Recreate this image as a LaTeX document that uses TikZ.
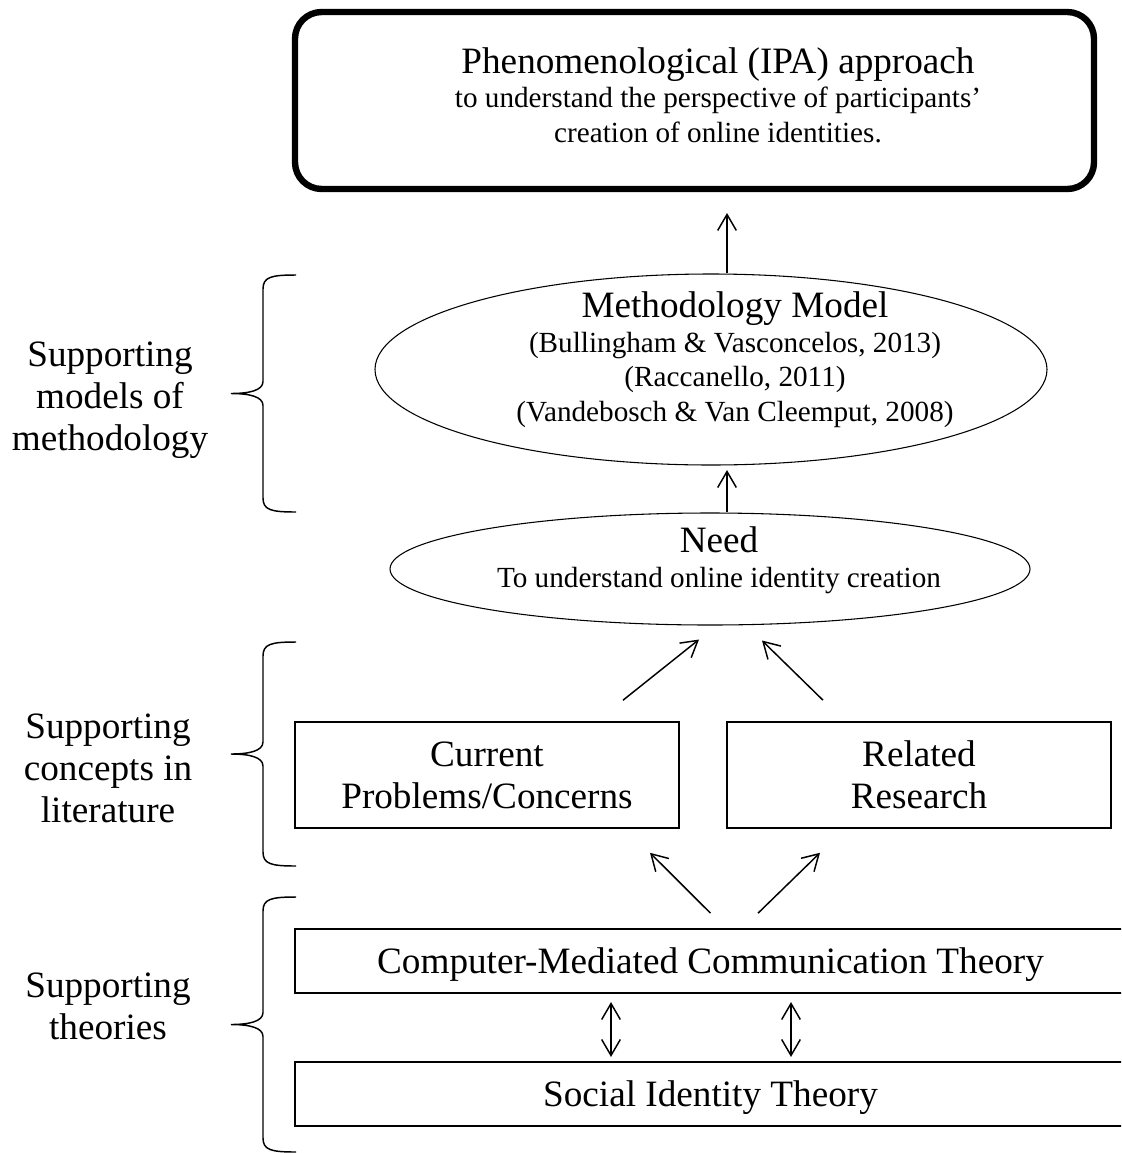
\documentclass[tikz,border=0pt]{standalone}
\usepackage{fontspec}
\setmainfont{Liberation Serif}
\usetikzlibrary{arrows.meta,shapes.geometric}

\newcommand\bigtext{\fontsize{27.9pt}{31.5pt}\selectfont}
\newcommand\smalltext{\fontsize{21.9pt}{25.9pt}\selectfont}

% curly bracket left of a group, from y=#1 down to y=#2
\newcommand\sidebrace[2]{%
  \draw[bracket] (296,#1) .. controls (271,#1) and (263,#1+2) .. (263,#1+14)
    -- (263,{(#1+#2)/2-12}) .. controls (263,{(#1+#2)/2-3}) and (249,{(#1+#2)/2}) .. (231,{(#1+#2)/2})
    .. controls (249,{(#1+#2)/2}) and (263,{(#1+#2)/2+3}) .. (263,{(#1+#2)/2+12})
    -- (263,#2-14) .. controls (263,#2-2) and (271,#2) .. (296,#2);}

\begin{document}
\begin{tikzpicture}[x=0.75pt, y=-0.75pt,
    >={Straight Barb[length=12pt,width=14pt]},
    box/.style={draw, line width=1.2pt, inner sep=0pt, align=center, font=\bigtext},
    oval/.style={draw, ellipse, line width=0.8pt, inner sep=0pt},
    arr/.style={->, line width=1.1pt},
    dbl/.style={<->, line width=1.1pt},
    bracket/.style={line width=1.1pt},
    grouplabel/.style={align=center, font=\bigtext}]
    \useasboundingbox (0,0) rectangle (1121,1153);
    \clip (0,0) rectangle (1121,1153);

    % Approach at the top
    \node[draw, rounded corners=20pt, line width=4.8pt, minimum width=599.25pt, minimum height=132.75pt] (ipa) at (694.5,100.5) {};
    \node[align=center, font=\smalltext] (ipatext) at (718,95) {{\bigtext Phenomenological (IPA) approach}\\ to understand the perspective of participants'\\ creation of online identities.};

    % Methodology model and need
    \node[oval, minimum width=504pt, minimum height=143.25pt] (meth) at (711,369.5) {};
    \node[align=center, font=\smalltext] (methtext) at (735,359.5) {{\bigtext Methodology Model}\\ (Bullingham \& Vasconcelos, 2013)\\ (Raccanello, 2011)\\ (Vandebosch \& Van Cleemput, 2008)};
    \node[oval, minimum width=480pt, minimum height=84pt] (need) at (710,569) {};
    \node[align=center, font=\smalltext] (needtext) at (719,560) {{\bigtext Need}\\ To understand online identity creation};

    % Concepts in literature
    \node[box, minimum width=288pt, minimum height=79.5pt] (cur) at (487,775) {Current\\ Problems/Concerns};
    \node[box, minimum width=288pt, minimum height=79.5pt] (rel) at (919,775) {Related\\ Research};

    % Theories
    \node[box, text depth=0pt, minimum width=623.25pt, minimum height=48pt] (cmc) at (710.5,961) {Computer-Mediated Communication Theory};
    \node[box, text depth=0pt, minimum width=623.25pt, minimum height=48pt] (sit) at (710.5,1094) {Social Identity Theory};

    % Labels and braces on the left
    \node[grouplabel] (lmeth) at (110,400) {Supporting\\ models of\\ methodology};
    \node[grouplabel] (lcon) at (108,768.5) {Supporting\\ concepts in\\ literature};
    \node[grouplabel] (lthe) at (108,1006) {Supporting\\ theories};
    \sidebrace{275}{512}
    \sidebrace{642}{866}
    \sidebrace{897}{1152}

    % Arrows
    \coordinate (spine) at (727,0);
    \coordinate (dl) at (611,0);
    \coordinate (dr) at (791,0);
    \draw[arr, shorten >=15.6pt] (meth.north -| spine) -- (ipa.south -| spine);
    \draw[arr, shorten >=3.4pt] (need.north -| spine) -- (meth.south -| spine);
    \draw[arr] ([shift={(136,-21)}]cur.north) -- ([shift={(-11,14)}]need.south);
    \draw[arr] ([shift={(-96,-21)}]rel.north) -- ([shift={(52,15)}]need.south);
    \draw[arr] ([shift={(0,-15)}]cmc.north) -- ([shift={(163,24)}]cur.south);
    \draw[arr] ([shift={(47.5,-15)}]cmc.north) -- ([shift={(-99,24)}]rel.south);
    \foreach \c in {dl,dr}
        \draw[dbl, shorten <=6.2pt, shorten >=3.2pt] (cmc.south -| \c) -- (sit.north -| \c);
\end{tikzpicture}
\end{document}
